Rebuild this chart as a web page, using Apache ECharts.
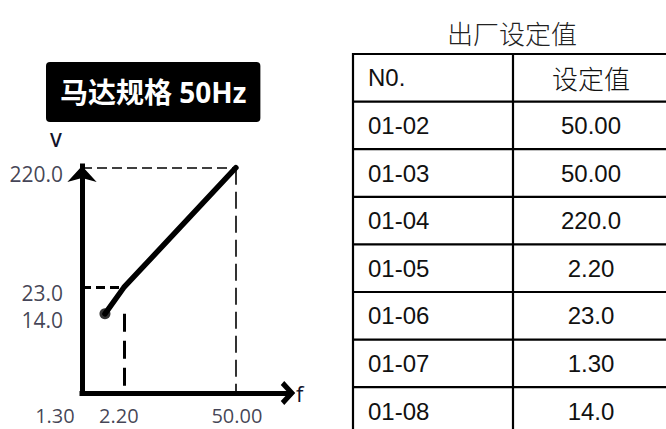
<!DOCTYPE html>
<html>
<head>
<meta charset="utf-8">
<script src="https://cdn.jsdelivr.net/npm/echarts@6.0.0/dist/echarts.min.js"></script>
<style>
  html, body { margin: 0; padding: 0; background: #fff; }
  #chart { width: 666px; height: 429px; }
</style>
</head>
<body>
<div id="chart"></div>
<script>
// V/f curve break points: output frequency (Hz) against output voltage (V)
const freqPoints = [1.30, 2.20, 50.00];
const voltPoints = [14.0, 23.0, 220.0];
const freqLabels = ['1.30', '2.20', '50.00'];
const voltLabels = ['14.0', '23.0', '220.0'];

// Factory default parameters
const tableTitle = '出厂设定值';
const tableHeader = ['N0.', '设定值'];
const paramCodes = ['01-02', '01-03', '01-04', '01-05', '01-06', '01-07', '01-08'];
const paramValues = ['50.00', '50.00', '220.0', '2.20', '23.0', '1.30', '14.0'];

// Schematic (logarithmic) axis extents
const X_MIN = 0.6855, X_MAX = 213.6;
const Y_MIN = 3.148, Y_MAX = 227;

// Horizontal nudge of the frequency tick texts
const freqLabelShift = [-50, -5, 1];

const labelFont = '"Open Sans", "DejaVu Sans", sans-serif';
const labelColor = '#12122a';
const chevron = 'path://M0,11 L12,0 L24,11 L20,14.5 L12,7 L4,14.5 Z';

const chart = echarts.init(document.getElementById('chart'), null, { renderer: 'svg' });

// ---- parameter table drawn with graphic elements ----
const tbl = { left: 353, mid: 513, right: 672, top: 54, rowH: 47.6, bottom: 440, codeX: 368, valX: 591 };
const graphics = [];
graphics.push({
  type: 'text',
  style: { text: tableTitle, x: 512, y: 32, font: '300 26px "Noto Sans CJK SC", sans-serif', fill: '#222',
           align: 'center', verticalAlign: 'middle', textAlign: 'center', textVerticalAlign: 'middle' }
});
const nRows = paramCodes.length + 1;
for (let k = 0; k <= nRows; k++) {
  const y = tbl.top + k * tbl.rowH;
  graphics.push({ type: 'line', shape: { x1: tbl.left - 1, y1: y, x2: tbl.right, y2: y },
                  style: { stroke: '#000', lineWidth: 2.2 } });
}
[tbl.left, tbl.mid].forEach(function (x) {
  graphics.push({ type: 'line', shape: { x1: x, y1: tbl.top - 1, x2: x, y2: tbl.bottom },
                  style: { stroke: '#000', lineWidth: 2.2 } });
});
function cellText(text, x, rowIdx, isCjk, align) {
  return {
    type: 'text',
    style: {
      text: text, x: x, y: tbl.top + (rowIdx + 0.5) * tbl.rowH,
      font: isCjk ? '300 26px "Noto Sans CJK SC", sans-serif' : '24px "Liberation Sans", Arial, sans-serif',
      fill: '#111', align: align, verticalAlign: 'middle', textAlign: align, textVerticalAlign: 'middle'
    }
  };
}
graphics.push(cellText(tableHeader[0], tbl.codeX, 0, false, 'left'));
graphics.push(cellText(tableHeader[1], tbl.valX, 0, true, 'center'));
paramCodes.forEach(function (c, i) {
  graphics.push(cellText(c, tbl.codeX, i + 1, false, 'left'));
  graphics.push(cellText(paramValues[i], tbl.valX, i + 1, false, 'center'));
});

// ---- V/f curve ----
const curveData = freqPoints.map(function (f, i) { return [f, voltPoints[i]]; });

const thinDash = { color: '#000', width: 1.6, type: [10, 5] };
const thinDashV = { color: '#000', width: 1.6, type: [17, 7] };
const thickDash = { color: '#000', width: 3, type: [9, 5] };
const thickDashV = { color: '#000', width: 3, type: [18, 9] };

const option = {
  animation: false,
  backgroundColor: '#fff',
  title: {
    text: '马达规格 50Hz',
    left: 46, top: 62,
    backgroundColor: '#000',
    borderRadius: 4,
    padding: [13, 14],
    textStyle: { color: '#fff', fontSize: 28, fontWeight: 'bold', lineHeight: 34,
                 fontFamily: '"Open Sans", "Noto Sans CJK SC", sans-serif' }
  },
  graphic: { elements: graphics },
  grid: { left: 82, right: 378, top: 166, bottom: 36, containLabel: false, outerBoundsMode: 'none' },
  xAxis: {
    type: 'log', min: X_MIN, max: X_MAX,
    name: 'f', nameLocation: 'end', nameGap: 8,
    nameTextStyle: { fontFamily: labelFont, fontSize: 22, fontWeight: 500, color: labelColor, padding: [0, 0, 30, 0] },
    axisLine: { onZero: false, symbol: ['none', chevron], symbolSize: [24, 18],
                lineStyle: { color: '#000', width: 5, cap: 'square' } },
    axisTick: { show: false }, axisLabel: { show: false }, splitLine: { show: false }
  },
  yAxis: {
    type: 'log', min: Y_MIN, max: Y_MAX,
    name: 'V', nameLocation: 'end', nameGap: 17,
    nameTextStyle: { fontFamily: labelFont, fontSize: 19, fontWeight: 600, color: labelColor, padding: [0, 52, 0, 0] },
    axisLine: { onZero: false, symbol: ['none', 'arrow'], symbolSize: [22, 16],
                lineStyle: { color: '#000', width: 5, cap: 'square' } },
    axisTick: { show: false }, axisLabel: { show: false }, splitLine: { show: false }
  },
  series: [
    {
      name: 'V/f',
      type: 'line',
      data: curveData,
      symbol: 'none',
      z: 5,
      lineStyle: { color: '#000', width: 5.5, cap: 'round', join: 'round' },
      markLine: {
        silent: true, symbol: 'none', label: { show: false },
        data: [
          [{ coord: [X_MIN, voltPoints[2]], lineStyle: thinDash }, { coord: [freqPoints[2], voltPoints[2]] }],
          [{ coord: [freqPoints[2], voltPoints[2]], lineStyle: thinDashV }, { coord: [freqPoints[2], Y_MIN] }],
          [{ coord: [X_MIN, voltPoints[1]], lineStyle: thickDash }, { coord: [freqPoints[1], voltPoints[1]] }],
          [{ coord: [freqPoints[1], voltPoints[0]], lineStyle: thickDashV }, { coord: [freqPoints[1], Y_MIN] }]
        ]
      }
    },
    {
      name: 'start',
      type: 'scatter',
      data: [curveData[0]],
      symbol: 'circle', symbolSize: 11, z: 6,
      itemStyle: { color: '#000' }
    },
    {
      name: 'voltTicks',
      type: 'scatter',
      symbolSize: 0,
      itemStyle: { color: 'transparent' },
      data: voltPoints.map(function (v, i) {
        return { value: [X_MIN, v], label: { formatter: voltLabels[i] } };
      }),
      label: { show: true, position: 'left', distance: 19, offset: [0, 6],
               fontFamily: labelFont, fontSize: 21, fontWeight: 500, color: labelColor }
    },
    {
      name: 'freqTicks',
      type: 'scatter',
      symbolSize: 0,
      itemStyle: { color: 'transparent' },
      data: freqPoints.map(function (f, i) {
        return { value: [f, Y_MIN], label: { formatter: freqLabels[i], offset: [freqLabelShift[i], 0] } };
      }),
      label: { show: true, position: 'bottom', distance: 14, lineHeight: 17,
               fontFamily: labelFont, fontSize: 20, fontWeight: 500, color: labelColor }
    }
  ]
};

chart.setOption(option);
</script>
</body>
</html>
